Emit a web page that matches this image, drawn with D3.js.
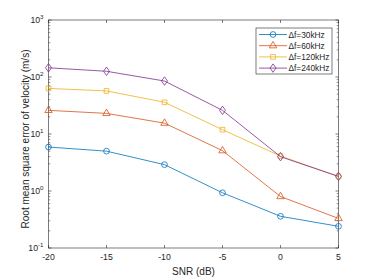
<!DOCTYPE html>
<html>
<head>
<meta charset="utf-8">
<script src="https://cdn.jsdelivr.net/npm/d3@7"></script>
<style>
  body { margin: 0; background: #fff; }
  text { font-family: "Liberation Sans", Arial, sans-serif; fill: #262626; }
</style>
</head>
<body>
<div id="chart"></div>
<script>
let width = 374,
    height = 280;

let snr = [-20, -15, -10, -5, 0, 5];
let seriesNames = ["\u0394f=30kHz", "\u0394f=60kHz", "\u0394f=120kHz", "\u0394f=240kHz"];
let rmse30 = [5.9, 5.0, 2.9, 0.93, 0.36, 0.24];
let rmse60 = [26, 23, 15.5, 5.1, 0.8, 0.33];
let rmse120 = [63, 57, 36, 11.9, 4.1, 1.8];
let rmse240 = [145, 126, 85, 26, 4.0, 1.8];
let xTicks = [-20, -15, -10, -5, 0, 5];
let yTicks = [0.1, 1, 10, 100, 1000];

let colors = ["#0072BD", "#D95319", "#EDB120", "#7E2F8E"];
let symbols = ["circle", "triangle", "square", "diamond"];
let series = [rmse30, rmse60, rmse120, rmse240];

let margin = {left: 48.5, right: 35.5, top: 20, bottom: 32};

let x = d3.scaleLinear()
    .domain([-20, 5])
    .range([margin.left, width - margin.right]);

let y = d3.scaleLog()
    .domain([0.1, 1000])
    .range([height - margin.bottom, margin.top]);

let svg = d3.select('#chart')
    .append('svg')
    .attr('width', width)
    .attr('height', height);

let axisColor = "#262626";
let x0 = x.range()[0], x1 = x.range()[1];
let y0 = y.range()[0], y1 = y.range()[1];

// box
svg.append('rect')
    .attr('x', x0).attr('y', y1)
    .attr('width', x1 - x0).attr('height', y0 - y1)
    .attr('fill', 'none')
    .attr('stroke', axisColor)
    .attr('stroke-width', 0.6);

// x ticks (inside, bottom and top)
xTicks.forEach(function (t) {
    svg.append('line').attr('x1', x(t)).attr('x2', x(t)).attr('y1', y0).attr('y2', y0 - 3)
        .attr('stroke', axisColor).attr('stroke-width', 0.6);
    svg.append('line').attr('x1', x(t)).attr('x2', x(t)).attr('y1', y1).attr('y2', y1 + 3)
        .attr('stroke', axisColor).attr('stroke-width', 0.6);
    svg.append('text')
        .attr('x', x(t)).attr('y', y0 + 12)
        .attr('text-anchor', 'middle')
        .attr('font-size', 8.7)
        .text(t);
});

// y ticks: majors and minors
let minors = [];
for (let e = -1; e < 3; e++) {
    for (let m = 2; m <= 9; m++) minors.push(m * Math.pow(10, e));
}
minors.forEach(function (v) {
    svg.append('line').attr('x1', x0).attr('x2', x0 + 1.8).attr('y1', y(v)).attr('y2', y(v))
        .attr('stroke', axisColor).attr('stroke-width', 0.5);
    svg.append('line').attr('x1', x1).attr('x2', x1 - 1.8).attr('y1', y(v)).attr('y2', y(v))
        .attr('stroke', axisColor).attr('stroke-width', 0.5);
});
yTicks.forEach(function (v) {
    svg.append('line').attr('x1', x0).attr('x2', x0 + 3).attr('y1', y(v)).attr('y2', y(v))
        .attr('stroke', axisColor).attr('stroke-width', 0.6);
    svg.append('line').attr('x1', x1).attr('x2', x1 - 3).attr('y1', y(v)).attr('y2', y(v))
        .attr('stroke', axisColor).attr('stroke-width', 0.6);
    let e = Math.round(Math.log10(v));
    let t = svg.append('text')
        .attr('x', x0 - 5).attr('y', y(v) + 3)
        .attr('text-anchor', 'end')
        .attr('font-size', 8.7);
    t.append('tspan').text('10');
    t.append('tspan').attr('dy', -4).attr('font-size', 6.2).text(e);
});

// axis labels
svg.append('text')
    .attr('x', (x0 + x1) / 2).attr('y', height - 5)
    .attr('text-anchor', 'middle')
    .attr('font-size', 10)
    .text('SNR (dB)');

svg.append('text')
    .attr('transform', 'translate(29,' + ((y0 + y1) / 2 + 5) + ') rotate(-90)')
    .attr('text-anchor', 'middle')
    .attr('font-size', 10)
    .text('Root mean square error of velocity (m/s)');

let line = d3.line()
    .x(function (d, i) { return x(snr[i]); })
    .y(function (d) { return y(d); });

function symbolPath(name) {
    if (name === 'circle') return d3.symbol(d3.symbolCircle, 26)();
    if (name === 'triangle') return d3.symbol(d3.symbolTriangle, 24)();
    if (name === 'square') return d3.symbol(d3.symbolSquare, 22)();
    return 'M0,-4.2L3,0L0,4.2L-3,0Z';
}

series.forEach(function (s, k) {
    svg.append('path')
        .datum(s)
        .attr('d', line)
        .attr('fill', 'none')
        .attr('stroke', colors[k])
        .attr('stroke-width', 0.8);
    svg.selectAll('.m' + k)
        .data(s)
        .enter().append('path')
        .attr('class', 'm' + k)
        .attr('d', symbolPath(symbols[k]))
        .attr('transform', function (d, i) { return 'translate(' + x(snr[i]) + ',' + y(d) + ')'; })
        .attr('fill', 'none')
        .attr('stroke', colors[k])
        .attr('stroke-width', 0.8);
});

// legend
let lg = svg.append('g').attr('transform', 'translate(256,28)');
lg.append('rect')
    .attr('width', 76).attr('height', 46)
    .attr('fill', '#fff')
    .attr('stroke', axisColor)
    .attr('stroke-width', 0.6);
seriesNames.forEach(function (n, k) {
    let yy = 6.5 + k * 11.2;
    lg.append('line').attr('x1', 3).attr('x2', 31).attr('y1', yy).attr('y2', yy)
        .attr('stroke', colors[k]).attr('stroke-width', 0.8);
    lg.append('path').attr('d', symbolPath(symbols[k]))
        .attr('transform', 'translate(17,' + yy + ')')
        .attr('fill', 'none').attr('stroke', colors[k]).attr('stroke-width', 0.8);
    lg.append('text').attr('x', 32.5).attr('y', yy + 3)
        .attr('font-size', 8.3)
        .text(n);
});
</script>
</body>
</html>
